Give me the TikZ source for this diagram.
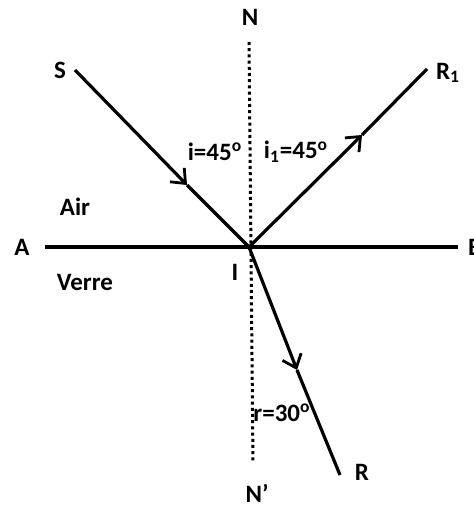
\documentclass[tikz,border=0pt]{standalone}
\usepackage{fontspec}
\setmainfont{Carlito}
\usetikzlibrary{arrows.meta, positioning}

\begin{document}
\begin{tikzpicture}[x=0.5pt, y=-0.5pt,
  every node/.style={font=\bfseries\fontsize{12.5}{14}\selectfont},
  ray/.style={line width=1.6pt},
  arr/.style={-{Straight Barb[length=6pt,width=10pt,line width=1.4pt]}},
  normal/.style={line width=1.5pt, dash pattern=on 1.5pt off 1.6pt}]
\useasboundingbox (0,0) rectangle (474,508);
% points of the rays
\coordinate (I)    at (249,247);
\coordinate (sEnd) at (75,70);
\coordinate (rOne) at (427,69);
\coordinate (rEnd) at (340,475);
\coordinate (aEnd) at (45,247);
\coordinate (bEnd) at (458,247);
\coordinate (nTop) at (249,42);
\coordinate (nBot) at (253,463);
\coordinate (mS)   at (187,185);
\coordinate (mR1)  at (362,135);
\coordinate (mR)   at (297,370);

% labels
\node (N)   at (250,17)  {N};
\node[inner sep=1pt] (Np) at (257,493) {N’};
\node (S)   at (60,70)   {S};
\node (R1)  at (448,73)  {R\textsubscript{1}};
\node (R)   at (362,472) {R};
\node (A)   at (22,247)  {A};
\node[anchor=west] (B) at (461,247) {B};
\node (air)   at (75,207)  {Air};
\node (verre) at (85,282)  {Verre};
\node (Ilab)  at (235,272) {I};
\node (angI)  at (215,152) {i=45\textsuperscript{o}};
\node (angI1) at (296,152) {i\textsubscript{1}=45\textsuperscript{o}};
\node (angR)  at (282,413) {r=30\textsuperscript{o}};

% surface and normal
\draw[normal] (nTop) -- (nBot);
\draw[ray] (aEnd) -- (bEnd);

% rays
\draw[ray, arr] (sEnd) -- (mS);
\draw[ray] (mS) -- (I);
\draw[ray, arr] (I) -- (mR1);
\draw[ray] (mR1) -- (rOne);
\draw[ray, arr] (I) -- (mR);
\draw[ray] (mR) -- (rEnd);
\end{tikzpicture}
\end{document}
